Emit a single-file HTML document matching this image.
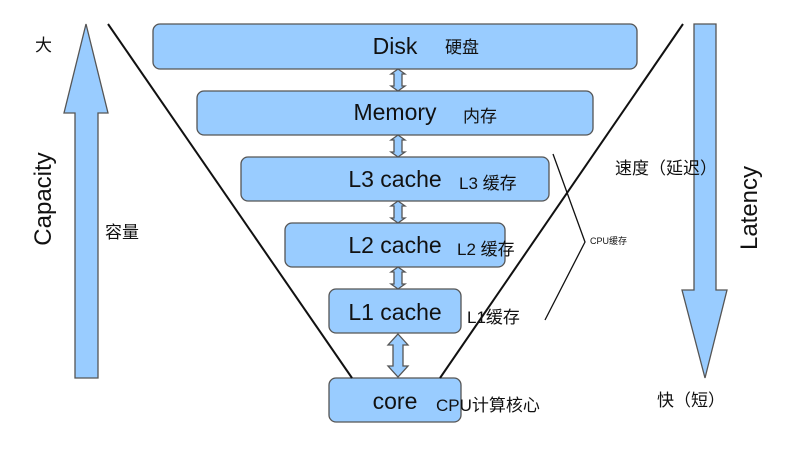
<!DOCTYPE html>
<html><head><meta charset="utf-8"><style>
html,body{margin:0;padding:0;background:#fff;}
svg{display:block;}
text{font-family:"Liberation Sans","Noto Sans CJK SC",sans-serif;fill:#111;}
</style></head><body>
<svg width="792" height="456" viewBox="0 0 792 456" xmlns="http://www.w3.org/2000/svg">
<g fill="#99ccff" stroke="#555" stroke-width="1.3">
<!-- left up arrow -->
<polygon points="86,24 108,113 98,113 98,378 75,378 75,113 64,113"/>
<!-- right down arrow -->
<polygon points="694,24 716,24 716,290 727,290 705,378 682,290 694,290"/>
<!-- boxes -->
<rect x="153" y="24" width="484" height="45" rx="7"/>
<rect x="197" y="91" width="396" height="44" rx="7"/>
<rect x="241" y="157" width="308" height="44" rx="7"/>
<rect x="285" y="223" width="220" height="44" rx="7"/>
<rect x="329" y="289" width="132" height="44" rx="7"/>
<rect x="329" y="378" width="132" height="44" rx="7"/>
<!-- small double arrows -->
<polygon points="398,69 405,74 402,74 402,86 405,86 398,91 391,86 394,86 394,74 391,74"/>
<polygon points="398,135 405,140 402,140 402,152 405,152 398,157 391,152 394,152 394,140 391,140"/>
<polygon points="398,201 405,206 402,206 402,218 405,218 398,223 391,218 394,218 394,206 391,206"/>
<polygon points="398,267 405,272 402,272 402,284 405,284 398,289 391,284 394,284 394,272 391,272"/>
<polygon points="398,334 408,345 403,345 403,366 408,366 398,377 388,366 393,366 393,345 388,345"/>
</g>
<g stroke="#111" stroke-width="2" fill="none">
<line x1="108" y1="24" x2="352" y2="378"/>
<line x1="683" y1="24" x2="440" y2="378"/>
</g>
<polyline points="553,154 585,242 545,320" stroke="#111" stroke-width="1.3" fill="none"/>
<g font-size="23" text-anchor="middle">
<text x="395" y="54">Disk</text>
<text x="395" y="120">Memory</text>
<text x="395" y="187">L3 cache</text>
<text x="395" y="253">L2 cache</text>
<text x="395" y="320">L1 cache</text>
<text x="395" y="409">core</text>
</g>
<g font-size="17">
<text x="445" y="53">硬盘</text>
<text x="463" y="122">内存</text>
<text x="459" y="189">L3 缓存</text>
<text x="457" y="255">L2 缓存</text>
<text x="467" y="323">L1缓存</text>
<text x="436" y="411">CPU计算核心</text>
<text x="35" y="51">大</text>
<text x="105" y="238">容量</text>
<text x="615" y="174">速度（延迟）</text>
<text x="657" y="406">快（短）</text>
</g>
<text x="590" y="244" font-size="9">CPU缓存</text>
<text font-size="24" text-anchor="middle" transform="translate(51,199) rotate(-90)">Capacity</text>
<text font-size="24" text-anchor="middle" transform="translate(757,208) rotate(-90)">Latency</text>
</svg>
</body></html>
